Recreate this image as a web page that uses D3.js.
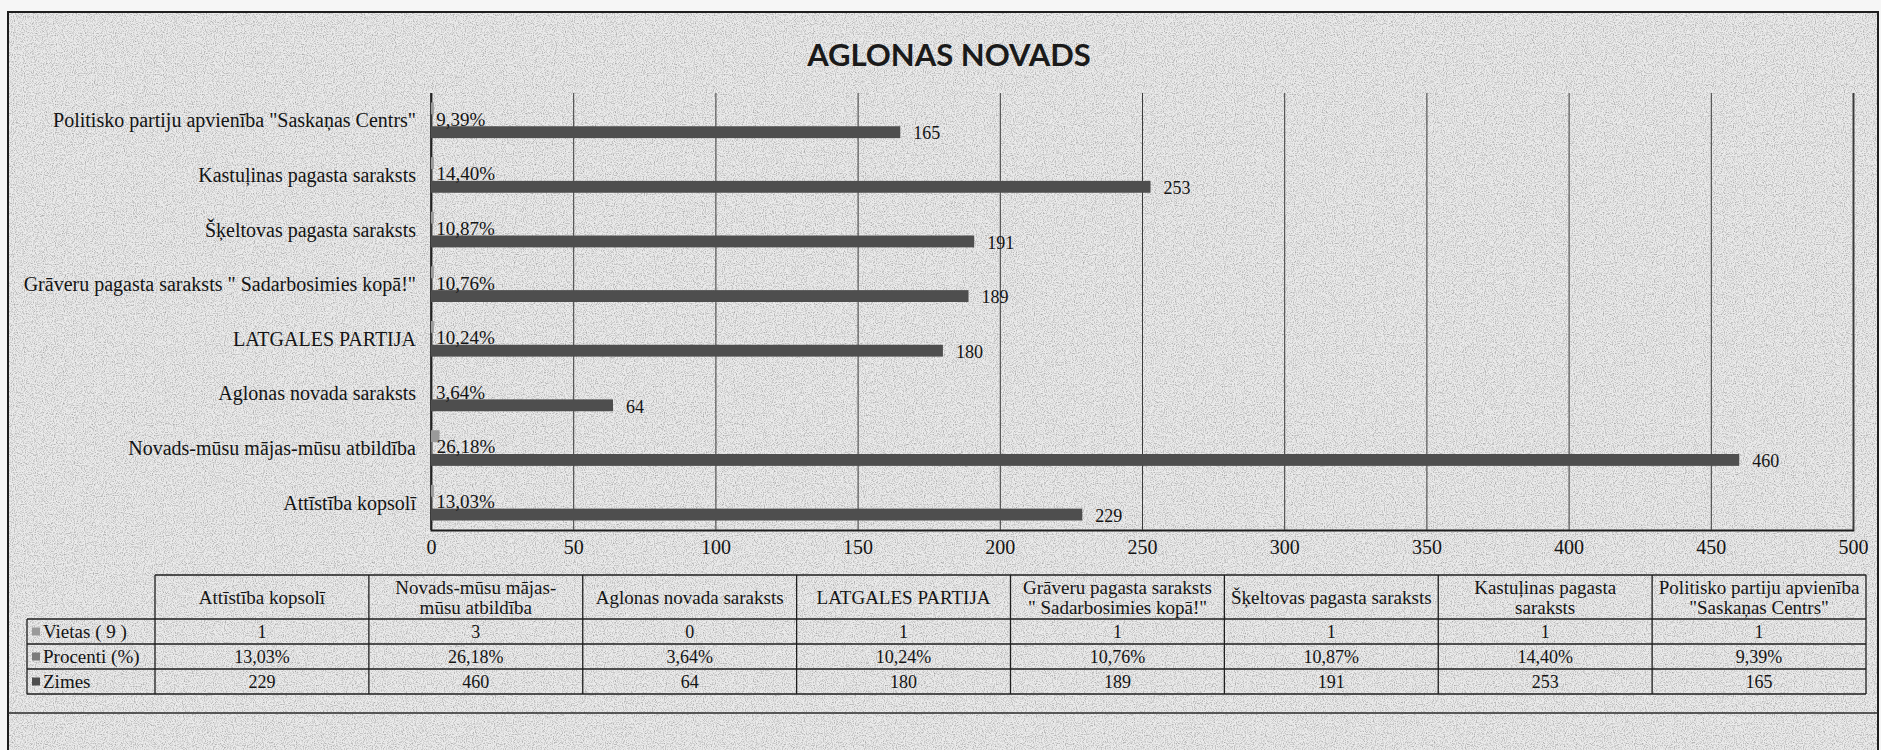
<!DOCTYPE html>
<html>
<head>
<meta charset="utf-8">
<script src="https://cdn.jsdelivr.net/npm/d3@7"></script>
<style>
  body { margin: 0; background: #f6f6f6; }
  svg { display: block; }
  text { fill: #141414; font-family: "Liberation Serif", "DejaVu Serif", serif; }
</style>
</head>
<body>
<svg id="chart" width="1881" height="750"></svg>
<script>
// categories, bottom to top in the chart = left to right in the table
const categories = [
  'Attīstība kopsolī',
  'Novads-mūsu mājas-mūsu atbildība',
  'Aglonas novada saraksts',
  'LATGALES PARTIJA',
  'Grāveru pagasta saraksts " Sadarbosimies kopā!"',
  'Šķeltovas pagasta saraksts',
  'Kastuļinas pagasta saraksts',
  'Politisko partiju apvienība "Saskaņas Centrs"'
]
const headerLines = [
  ['Attīstība kopsolī'],
  ['Novads-mūsu mājas-', 'mūsu atbildība'],
  ['Aglonas novada saraksts'],
  ['LATGALES PARTIJA'],
  ['Grāveru pagasta saraksts', '" Sadarbosimies kopā!"'],
  ['Šķeltovas pagasta saraksts'],
  ['Kastuļinas pagasta', 'saraksts'],
  ['Politisko partiju apvienība', '"Saskaņas Centrs"']
]
const vietas = [1, 3, 0, 1, 1, 1, 1, 1]
const procenti = [13.03, 26.18, 3.64, 10.24, 10.76, 10.87, 14.40, 9.39]
const zimes = [229, 460, 64, 180, 189, 191, 253, 165]
const seriesNames = ['Vietas ( 9 )', 'Procenti (%)', 'Zimes']
const xTicks = [0, 50, 100, 150, 200, 250, 300, 350, 400, 450, 500]

const colors = { vietas: '#9a9a9a', procenti: '#7a7a7a', zimes: '#4e4e4e' }
const lv = d3.formatLocale({ decimal: ',', thousands: ' ', grouping: [3], currency: ['', ''] })
const fmtPct = v => lv.format('.2f')(v) + '%'

const rows = categories.map((c, i) => ({
  name: c, vietas: vietas[i], procenti: procenti[i], zimes: zimes[i]
}))

const svg = d3.select('#chart')

// scanned-paper look
const defs = svg.append('defs')
const f = defs.append('filter').attr('id', 'grain').attr('x', 0).attr('y', 0)
  .attr('width', '100%').attr('height', '100%')
f.append('feTurbulence').attr('type', 'fractalNoise').attr('baseFrequency', 0.9)
  .attr('numOctaves', 2).attr('seed', 4)
f.append('feColorMatrix').attr('type', 'matrix')
  .attr('values', '0 0 0 0 0  0 0 0 0 0  0 0 0 0 0  0 0 0 2.2 -0.95')

svg.append('rect').attr('x', 8).attr('y', 12).attr('width', 1870).attr('height', 738)
  .attr('fill', '#ebebeb')
svg.append('rect').attr('x', 8).attr('y', 12).attr('width', 1870).attr('height', 738)
  .attr('filter', 'url(#grain)').attr('opacity', 0.3)

// frame
svg.append('rect').attr('x', 8).attr('y', 12).attr('width', 1870).attr('height', 745)
  .attr('fill', 'none').attr('stroke', '#1e1e1e').attr('stroke-width', 2)
svg.append('line').attr('x1', 8).attr('x2', 1878).attr('y1', 713).attr('y2', 713)
  .attr('stroke', '#2a2a2a').attr('stroke-width', 1.5)

svg.append('text')
  .attr('x', 949).attr('y', 66)
  .attr('text-anchor', 'middle')
  .style('font-family', 'Lato, "Open Sans", sans-serif')
  .style('font-weight', 700)
  .style('font-size', '31px')
  .style('fill', '#1a1a1a')
  .text('AGLONAS NOVADS')

// plot
const plot = { left: 431, right: 1853, top: 93, bottom: 530 }

const xScale = d3.scaleLinear()
  .domain([0, 500])
  .range([plot.left, plot.right])

const yScale = d3.scaleBand()
  .domain(categories.slice().reverse())
  .range([plot.top, plot.bottom])
  .paddingInner(0)

const ySeries = d3.scaleBand()
  .domain(['vietas', 'procenti', 'zimes'])
  .range([0, yScale.bandwidth()])
  .paddingInner(0)
  .paddingOuter(0.8)

const xAxis = d3.axisBottom(xScale)
  .tickValues(xTicks)
  .tickSize(-(plot.bottom - plot.top))
  .tickPadding(10)

const xAxisG = svg.append('g')
  .attr('transform', `translate(0,${plot.bottom})`)
  .call(xAxis)
xAxisG.select('.domain').attr('stroke', '#1e1e1e').attr('stroke-width', 1.8)
xAxisG.selectAll('.tick line').attr('stroke', '#3a3a3a').attr('stroke-width', 1)
xAxisG.selectAll('.tick text')
  .style('font-size', '20px')
  .style('font-family', '"Liberation Serif", serif')
  .attr('fill', '#141414')

svg.append('line')
  .attr('x1', plot.left).attr('x2', plot.left)
  .attr('y1', plot.top).attr('y2', plot.bottom)
  .attr('stroke', '#1e1e1e').attr('stroke-width', 1.5)

const groups = svg.selectAll('.cat')
  .data(rows)
  .enter()
  .append('g')
  .classed('cat', true)
  .attr('transform', d => `translate(0,${yScale(d.name)})`)

groups.append('text')
  .attr('x', plot.left - 15)
  .attr('y', yScale.bandwidth() / 2)
  .attr('dy', '0.35em')
  .attr('text-anchor', 'end')
  .style('font-size', '20px')
  .text(d => d.name)

groups.append('rect')
  .attr('x', xScale(0))
  .attr('y', ySeries('vietas'))
  .attr('height', ySeries.bandwidth())
  .attr('width', d => xScale(d.vietas) - xScale(0))
  .attr('fill', colors.vietas)

groups.append('rect')
  .attr('x', xScale(0))
  .attr('y', ySeries('procenti'))
  .attr('height', ySeries.bandwidth())
  .attr('width', d => xScale(d.procenti / 100) - xScale(0))
  .attr('fill', colors.procenti)

groups.append('rect')
  .attr('x', xScale(0))
  .attr('y', ySeries('zimes'))
  .attr('height', ySeries.bandwidth())
  .attr('width', d => xScale(d.zimes) - xScale(0))
  .attr('fill', colors.zimes)

groups.append('text')
  .attr('x', d => xScale(d.procenti / 100) + 5)
  .attr('y', ySeries('procenti') + ySeries.bandwidth() / 2)
  .attr('dy', '0.28em')
  .style('font-size', '19px')
  .text(d => fmtPct(d.procenti))

groups.append('text')
  .attr('x', d => xScale(d.zimes) + 13)
  .attr('y', ySeries('zimes') + ySeries.bandwidth() / 2)
  .attr('dy', '0.4em')
  .style('font-size', '18px')
  .text(d => d.zimes)

// data table
const table = { left: 155, right: 1866, legendLeft: 27, top: 575, headerBottom: 619, rowH: 25 }
const colX = d3.scaleBand()
  .domain(categories)
  .range([table.left, table.right])

const tableG = svg.append('g')
const line = (x1, y1, x2, y2) => tableG.append('line')
  .attr('x1', x1).attr('y1', y1).attr('x2', x2).attr('y2', y2)
  .attr('stroke', '#1e1e1e').attr('stroke-width', 1.3)

const tableBottom = table.headerBottom + table.rowH * seriesNames.length
line(table.left, table.top, table.right, table.top)
line(table.legendLeft, table.headerBottom, table.right, table.headerBottom)
seriesNames.forEach((s, i) => {
  const yb = table.headerBottom + table.rowH * (i + 1)
  line(table.legendLeft, yb, table.right, yb)
})
line(table.legendLeft, table.headerBottom, table.legendLeft, tableBottom)
categories.forEach(c => line(colX(c), table.top, colX(c), tableBottom))
line(table.right, table.top, table.right, tableBottom)

tableG.selectAll('.hdr')
  .data(categories)
  .enter()
  .append('text')
  .classed('hdr', true)
  .attr('x', d => colX(d) + colX.bandwidth() / 2)
  .attr('y', (d, i) => (table.top + table.headerBottom) / 2 + (headerLines[i].length === 1 ? 0 : -10))
  .attr('text-anchor', 'middle')
  .style('font-size', '19px')
  .each(function (d, i) {
    headerLines[i].forEach((t, k) => {
      d3.select(this).append('tspan')
        .attr('x', colX(d) + colX.bandwidth() / 2)
        .attr('dy', k === 0 ? '0.35em' : '1.05em')
        .text(t)
    })
  })

const rowValues = [
  vietas.map(String),
  procenti.map(fmtPct),
  zimes.map(String)
]
const swatch = [colors.vietas, colors.procenti, colors.zimes]

seriesNames.forEach((s, r) => {
  const yc = table.headerBottom + table.rowH * r + table.rowH / 2
  tableG.append('rect')
    .attr('x', table.legendLeft + 5).attr('y', yc - 4)
    .attr('width', 8).attr('height', 8)
    .attr('fill', swatch[r])
  tableG.append('text')
    .attr('x', table.legendLeft + 16).attr('y', yc)
    .attr('dy', '0.35em')
    .style('font-size', '19px')
    .text(s)
  tableG.selectAll(null)
    .data(categories)
    .enter()
    .append('text')
    .attr('x', d => colX(d) + colX.bandwidth() / 2)
    .attr('y', yc)
    .attr('dy', '0.35em')
    .attr('text-anchor', 'middle')
    .style('font-size', '18px')
    .text((d, i) => rowValues[r][i])
})
</script>
</body>
</html>
